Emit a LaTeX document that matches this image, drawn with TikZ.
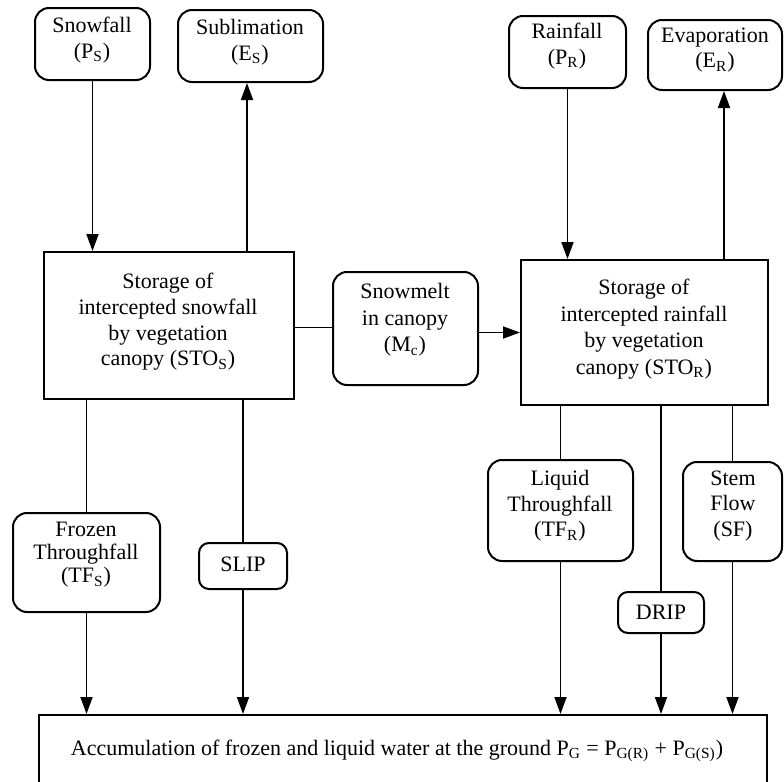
\documentclass[tikz,border=0pt]{standalone}
\usepackage{fontspec}
\setmainfont{Liberation Serif}
\usetikzlibrary{arrows.meta,fit}
\begin{document}
\begin{tikzpicture}[x=0.5pt,y=-0.5pt,
  rbox/.style={draw,rounded corners=7pt,inner sep=0pt,line width=1pt},
  sbox/.style={draw,rounded corners=5pt,inner sep=0pt,line width=1pt},
  pbox/.style={draw,inner sep=0pt,line width=1pt},
  txt/.style={align=center,inner sep=0pt,font=\fontsize{11}{12.8}\selectfont},
  flow/.style={-{Triangle[length=8.5pt,width=6pt]},line width=0.9pt},
  link/.style={line width=0.9pt}]
\useasboundingbox (0,0) rectangle (784,782);
\clip (0,0) rectangle (784,782);
% top boxes
\node[rbox,fit={(35,8) (150,80)}] (sf) {};
\node[txt] (sft) at (92,40) {Snowfall\\(P\textsubscript{S})};
\node[rbox,fit={(178,10) (323,82)}] (subl) {};
\node[txt] (sublt) at (250,42) {Sublimation\\(E\textsubscript{S})};
\node[rbox,fit={(509,16) (626,88)}] (rain) {};
\node[txt] (raint) at (567,46) {Rainfall\\(P\textsubscript{R})};
\node[rbox,fit={(648,20) (782,90)}] (evap) {};
\node[txt] (evapt) at (715,50) {Evaporation\\(E\textsubscript{R})};
% storage boxes
\node[pbox,fit={(44,252) (294,399)}] (stoS) {};
\node[txt] (stoSt) at (168,322) {Storage of\\intercepted snowfall\\by vegetation\\canopy (STO\textsubscript{S})};
\node[rbox,fit={(333,272) (478,385)}] (snow) {};
\node[txt,font=\fontsize{11}{13.3}\selectfont] (snowt) at (405,320) {Snowmelt\\in canopy\\(M\textsubscript{c})};
\node[pbox,fit={(521,260) (768,405)}] (stoR) {};
\node[txt,font=\fontsize{11}{13.3}\selectfont] (stoRt) at (644,329) {Storage of\\intercepted rainfall\\by vegetation\\canopy (STO\textsubscript{R})};
% lower boxes
\node[rbox,fit={(13,513) (160,612)}] (frz) {};
\node[txt,font=\fontsize{11}{11.5}\selectfont] (frzt) at (86,555) {Frozen\\Throughfall\\(TF\textsubscript{S})};
\node[sbox,fit={(199,543) (287,589)}] (slip) {};
\node[txt] (slipt) at (243,564) {SLIP};
\node[rbox,fit={(488,460) (633,561)}] (liq) {};
\node[txt] (liqt) at (560,506) {Liquid\\Throughfall\\(TF\textsubscript{R})};
\node[rbox,fit={(683,462) (782,561)}] (stem) {};
\node[txt] (stemt) at (733,506) {Stem\\Flow\\(SF)};
\node[sbox,fit={(618,592) (704,633)}] (drip) {};
\node[txt] (dript) at (661,612) {DRIP};
\node[pbox,fit={(39,715) (767,800)}] (grd) {};
\node[txt] (grdt) at (397,751) {Accumulation of frozen and liquid water at the ground P\textsubscript{G} = P\textsubscript{G(R)} + P\textsubscript{G(S)})};
% connectors top
\draw[flow] (sf.south) -- (sf.south |- stoS.north);
\draw[flow] ([xshift=-1.75pt]subl.south |- stoS.north) -- ([xshift=-1.75pt]subl.south);
\draw[flow] (rain.south) -- (rain.south |- stoR.north);
\draw[flow] ([xshift=4.5pt]evap.south |- stoR.north) -- ([xshift=4.5pt]evap.south);
% snowmelt
\draw[link] ([yshift=0.5pt]snow.west -| stoS.east) -- ([yshift=0.5pt]snow.west);
\draw[flow] ([yshift=-2pt]snow.east) -- ([yshift=-2pt]snow.east -| stoR.west);
% snow storage outputs
\draw[link] (frz.north |- stoS.south) -- (frz.north);
\draw[flow] (frz.south) -- (frz.south |- grd.north);
\draw[link] (slip.north |- stoS.south) -- (slip.north);
\draw[flow] (slip.south) -- (slip.south |- grd.north);
% rain storage outputs
\draw[link] (liq.north |- stoR.south) -- (liq.north);
\draw[flow] (liq.south) -- (liq.south |- grd.north);
\draw[link] (drip.north |- stoR.south) -- (drip.north);
\draw[flow] (drip.south) -- (drip.south |- grd.north);
\draw[link] (stem.north |- stoR.south) -- (stem.north);
\draw[flow] (stem.south) -- (stem.south |- grd.north);
\end{tikzpicture}
\end{document}
